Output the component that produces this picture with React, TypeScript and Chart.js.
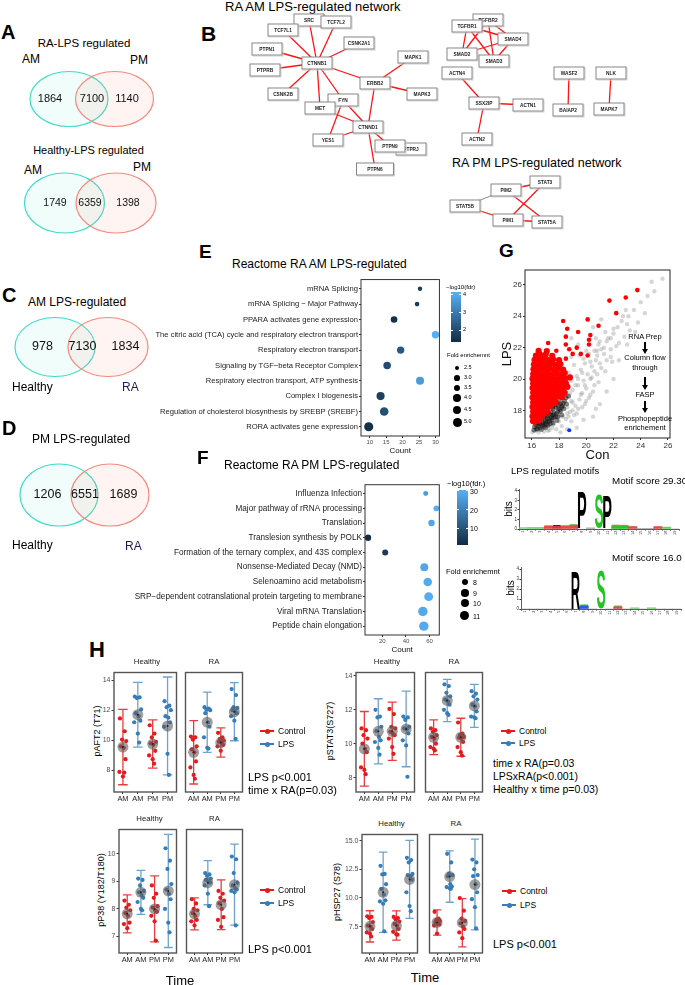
import React, { useEffect, useRef } from "react";
import { Chart, registerables } from "chart.js";

Chart.register(...registerables);

const FONT = "'Liberation Sans', Arial, Helvetica, sans-serif";
Chart.defaults.font.family = FONT;
Chart.defaults.color = "#333";

/* ================= DATA ================= */
// Venn counts: [left only, shared, right only]
const VENN_RA_LPS = [1864, 7100, 1140];
const VENN_HEALTHY_LPS = [1749, 6359, 1398];
const VENN_AM_LPS = [978, 7130, 1834];
const VENN_PM_LPS = [1206, 6551, 1689];

// B: network layout (node, x, y)
const NET_NODES: [string, number, number][] = [
  ["SRC", 69, 12], ["TCF7L2", 96, 14], ["TCF7L1", 43, 22], ["CSNK2A1", 119, 35], ["PTPN1", 27, 41],
  ["CTNNB1", 77, 55], ["PTPRB", 25, 62], ["MAPK1", 173, 49], ["ERBB2", 135, 75], ["MAPK3", 182, 86],
  ["CSNK2B", 43, 86], ["FYN", 103, 92], ["MET", 80, 100], ["CTNND1", 128, 119], ["YES1", 88, 132],
  ["PTPRJ", 171, 141], ["PTPN9", 150, 138], ["PTPN6", 135, 161],
  ["TGFBR2", 248, 12], ["TGFBR1", 227, 18], ["SMAD4", 273, 31], ["SMAD2", 222, 46], ["SMAD3", 254, 53],
  ["ACTN4", 217, 65], ["SSX2IP", 244, 95], ["ACTN1", 288, 97], ["ACTN2", 237, 131],
  ["WASF2", 329, 65], ["BAIAP2", 328, 102], ["NLK", 371, 65], ["MAPK7", 369, 101],
  ["STAT5B", 225, 198], ["PIM2", 266, 182], ["STAT3", 305, 174], ["PIM1", 268, 212], ["STAT5A", 307, 214],
];
const NET_EDGES: [string, string][] = [
  ["CTNNB1", "SRC"], ["CTNNB1", "TCF7L2"], ["CTNNB1", "TCF7L1"], ["CTNNB1", "CSNK2A1"], ["CTNNB1", "PTPN1"],
  ["CTNNB1", "PTPRB"], ["CTNNB1", "CSNK2B"], ["CTNNB1", "MET"], ["CTNNB1", "FYN"], ["CTNNB1", "ERBB2"],
  ["ERBB2", "MAPK1"], ["ERBB2", "MAPK3"], ["ERBB2", "CTNND1"], ["CTNND1", "FYN"], ["CTNND1", "MET"],
  ["CTNND1", "YES1"], ["CTNND1", "PTPN9"], ["CTNND1", "PTPN6"], ["FYN", "YES1"],
  ["TGFBR1", "SMAD2"], ["TGFBR1", "SMAD3"], ["TGFBR1", "SMAD4"], ["TGFBR2", "SMAD2"], ["TGFBR2", "SMAD3"],
  ["TGFBR2", "SMAD4"], ["SMAD2", "SMAD4"], ["SMAD3", "SMAD4"],
  ["ACTN4", "SSX2IP"], ["SSX2IP", "ACTN1"], ["SSX2IP", "ACTN2"], ["WASF2", "BAIAP2"], ["NLK", "MAPK7"],
  ["STAT5B", "PIM2"], ["STAT5B", "PIM1"], ["PIM2", "STAT3"], ["PIM2", "STAT5A"], ["PIM1", "STAT3"], ["PIM1", "STAT5A"],
];
const NET_GRAY_EDGES = ["STAT5B|PIM2"];

// E: Reactome RA AM
const E_TERMS = [
  "mRNA Splicing", "mRNA Splicing \u2212 Major Pathway", "PPARA activates gene expression",
  "The citric acid (TCA) cycle and respiratory electron transport", "Respiratory electron transport",
  "Signaling by TGF\u2212beta Receptor Complex", "Respiratory electron transport, ATP synthesis",
  "Complex I biogenesis", "Regulation of cholesterol biosynthesis by SREBP (SREBF)", "RORA activates gene expression",
];
const E_COUNT = [25.3, 24.4, 17.4, 30, 19.4, 15.3, 25.3, 13.3, 14.4, 9.7];
const E_FDR = [1.75, 1.7, 1.45, 4.1, 2.3, 2.05, 3.7, 1.8, 2.1, 1.45];
const E_FOLD = [2.45, 2.5, 3.45, 3.9, 3.9, 4.0, 4.3, 4.4, 4.7, 5.1];
const E_COUNT_TICKS = [10, 15, 20, 25, 30];
const E_FDR_TICKS = [2, 3, 4];
const E_FOLD_BREAKS = [2.5, 3.0, 3.5, 4.0, 4.5, 5.0];

// F: Reactome RA PM
const F_TERMS = [
  "Influenza Infection", "Major pathway of rRNA processing", "Translation", "Translesion synthesis by POLK",
  "Formation of the ternary complex, and 43S complex", "Nonsense-Mediated Decay (NMD)", "Selenoamino acid metabolism",
  "SRP\u2212dependent cotranslational protein targeting to membrane", "Viral mRNA Translation", "Peptide chain elongation",
];
const F_COUNT = [56.7, 65.7, 61.6, 7.8, 22.4, 55.5, 58.4, 59.2, 54.3, 55.1];
const F_FDR = [26, 30, 28, 1.5, 4.5, 28, 29, 29.5, 28.5, 29];
const F_FOLD = [6.5, 7.2, 7.8, 7.8, 7.4, 9.6, 10.4, 10.7, 11.6, 11.6];
const F_COUNT_TICKS = [20, 40, 60];
const F_FDR_TICKS = [10, 20, 30];
const F_FOLD_BREAKS = [8, 9, 10, 11];

// G: Con vs LPS intensities
const G_X_TICKS = [16, 18, 20, 22, 24, 26];
const G_Y_TICKS = [18, 20, 22, 24, 26];
const G_RED_DENSE: [number, number][] = [
  [16.08, 17.32], [16.22, 17.28], [16.38, 17.4], [16.52, 17.35],
  [16.05, 17.62], [16.2, 17.58], [16.42, 17.66], [16.63, 17.6], [16.8, 17.7],
  [16.1, 17.92], [16.3, 17.86], [16.52, 17.95], [16.76, 17.9], [16.97, 17.98], [17.15, 17.92],
  [16.05, 18.22], [16.27, 18.18], [16.46, 18.27], [16.7, 18.2], [16.92, 18.28], [17.15, 18.2], [17.38, 18.3],
  [16.1, 18.52], [16.32, 18.48], [16.55, 18.56], [16.8, 18.5], [17.02, 18.58], [17.27, 18.5], [17.52, 18.57], [17.76, 18.5],
  [16.05, 18.82], [16.3, 18.78], [16.52, 18.86], [16.76, 18.8], [17.0, 18.88], [17.22, 18.8], [17.46, 18.86], [17.72, 18.8], [17.96, 18.9], [18.2, 18.83],
  [16.1, 19.12], [16.36, 19.08], [16.6, 19.15], [16.86, 19.1], [17.1, 19.18], [17.36, 19.1], [17.6, 19.16], [17.86, 19.1], [18.12, 19.2], [18.42, 19.12],
  [16.05, 19.42], [16.3, 19.38], [16.56, 19.46], [16.8, 19.4], [17.06, 19.48], [17.3, 19.4], [17.56, 19.46], [17.82, 19.4], [18.06, 19.48], [18.32, 19.42], [18.62, 19.5],
  [16.1, 19.72], [16.36, 19.68], [16.6, 19.76], [16.86, 19.7], [17.1, 19.78], [17.36, 19.7], [17.62, 19.76], [17.9, 19.7], [18.2, 19.78], [18.5, 19.72],
  [16.05, 20.02], [16.3, 19.98], [16.56, 20.06], [16.8, 20.0], [17.06, 20.08], [17.32, 20.0], [17.6, 20.06], [17.86, 20.0], [18.16, 20.08], [18.46, 20.02], [18.8, 20.1],
  [16.1, 20.32], [16.36, 20.28], [16.62, 20.36], [16.9, 20.3], [17.2, 20.38], [17.5, 20.3], [17.8, 20.36], [18.1, 20.3], [18.42, 20.38],
  [16.12, 20.62], [16.4, 20.58], [16.7, 20.66], [17.0, 20.6], [17.3, 20.68], [17.62, 20.6], [17.96, 20.66], [18.3, 20.6],
  [16.15, 20.92], [16.46, 20.88], [16.76, 20.96], [17.06, 20.9], [17.4, 20.98], [17.72, 20.9], [18.1, 20.95],
  [16.2, 21.22], [16.52, 21.18], [16.86, 21.26], [17.2, 21.2], [17.56, 21.26], [18.0, 21.2],
  [16.3, 21.5], [16.66, 21.46], [17.02, 21.55], [17.5, 21.48], [16.5, 21.8], [17.1, 21.78],
];
const G_RED_SPARSE: [number, number][] = [
  [23.75, 25.67], [22.9, 25.2], [21.7, 25.0], [22.2, 24.2], [20.1, 23.8], [18.3, 23.7], [20.9, 23.4], [18.6, 23.2],
  [19.4, 23.0], [20.3, 22.8], [17.2, 22.3], [20.2, 22.5], [18.5, 22.7], [18.5, 22.2], [19.3, 22.0], [20.2, 22.2],
  [17.8, 21.8], [16.65, 21.6], [18.75, 21.9], [19.0, 21.6], [19.6, 21.6], [20.1, 21.5], [16.8, 21.4], [18.5, 21.3],
];
const G_CORE: [number, number][] = [
  [16.2, 16.95], [16.35, 16.85], [16.5, 17.0], [16.62, 16.9], [16.75, 17.05], [16.9, 16.98], [17.05, 17.12], [17.2, 17.05],
  [16.45, 17.2], [16.6, 17.3], [16.8, 17.22], [16.98, 17.35], [17.15, 17.28], [17.3, 17.45], [17.48, 17.38], [16.9, 17.55],
  [17.1, 17.62], [17.28, 17.75], [17.45, 17.68], [17.62, 17.85], [17.8, 17.78], [17.55, 18.1], [17.75, 18.2], [17.95, 18.12],
  [18.1, 18.4], [18.25, 18.3], [17.85, 18.5], [18.4, 18.6], [16.3, 17.1], [17.35, 17.15], [17.6, 17.55], [17.9, 17.6],
  [18.1, 17.95], [18.35, 18.1], [16.15, 16.75], [16.7, 16.78], [17.0, 16.9],
  [16.4, 16.8], [16.55, 17.15], [16.7, 17.45], [16.85, 17.1], [17.0, 17.25], [17.15, 17.5], [17.3, 17.3], [17.45, 17.55],
  [17.6, 17.7], [17.75, 17.6], [17.9, 17.9], [18.05, 18.05], [18.2, 18.2], [17.4, 17.9], [17.7, 18.35], [18.0, 18.6],
  [18.3, 18.45], [18.5, 18.8], [16.25, 17.4], [16.5, 17.5], [16.95, 17.7], [17.2, 17.85], [17.5, 18.2], [17.95, 18.35],
  [18.55, 18.4], [18.2, 17.7], [17.85, 17.35], [17.55, 17.2], [16.35, 17.25], [18.7, 18.9],
];
const G_HALO: [number, number][] = [
  [17.5, 16.9], [17.8, 16.8], [18.2, 17.0], [18.5, 17.45], [18.9, 17.3], [18.8, 17.9], [19.3, 17.8], [19.2, 18.3],
  [19.7, 18.2], [19.5, 18.7], [20.0, 18.6], [18.6, 18.9], [19.0, 19.3], [19.4, 19.6], [20.3, 19.0], [20.5, 19.2],
  [19.8, 19.9], [20.9, 19.8], [20.1, 20.3], [19.6, 20.6], [20.4, 20.8], [21.4, 20.5], [20.7, 21.2], [19.9, 21.0],
  [18.9, 19.9], [19.3, 20.2], [18.7, 20.4], [19.1, 20.9], [18.9, 21.4], [19.5, 21.5], [20.2, 21.6], [20.8, 21.8],
  [21.3, 22.0], [21.9, 21.1], [21.0, 22.4], [21.6, 22.6], [22.0, 22.9], [22.3, 23.3], [22.6, 23.7], [23.1, 24.0],
  [23.5, 24.4], [24.0, 24.9], [24.8, 26.2], [25.6, 26.4], [22.7, 24.0], [23.0, 23.5], [22.0, 23.2], [23.6, 23.0],
  [21.5, 22.4], [21.8, 22.6], [20.9, 22.2], [22.2, 22.1], [21.1, 21.9], [20.6, 21.8], [21.8, 21.4], [20.8, 21.5],
  [20.0, 21.8], [19.8, 21.3], [19.0, 18.0], [18.3, 18.8], [18.6, 18.2], [18.9, 18.6], [16.05, 16.6], [16.25, 16.7],
  [17.3, 16.75], [18.0, 17.6], [18.4, 19.4], [19.7, 19.1], [20.4, 20.1], [18.6, 17.8],
  [17.2, 17.0], [17.6, 17.1], [18.0, 17.3], [18.3, 17.6], [18.7, 17.6], [19.1, 17.7], [19.4, 18.1], [19.9, 18.4],
  [20.2, 18.8], [19.0, 18.5], [19.6, 19.0], [20.0, 19.4], [20.6, 19.6], [18.8, 19.1], [19.2, 19.6], [19.9, 19.6],
  [20.3, 20.0], [20.8, 20.3], [21.1, 20.7], [19.4, 20.0], [19.7, 20.4], [20.6, 20.5], [21.0, 21.0], [21.5, 21.2],
  [20.3, 21.1], [21.3, 21.6], [21.8, 21.9], [22.4, 22.3], [22.8, 22.7], [23.2, 23.1], [23.8, 23.6], [24.3, 24.2],
  [22.9, 24.4], [21.4, 23.0], [20.7, 22.6], [19.4, 22.2], [18.9, 22.6], [20.5, 23.3], [21.1, 23.8], [24.5, 25.3],
  [25.0, 25.6], [19.3, 16.9], [18.6, 16.8], [20.5, 17.6], [21.0, 18.4], [21.5, 19.2], [22.0, 20.0], [17.2, 16.7],
  [16.5, 16.6], [16.9, 16.65], [18.1, 16.6], [19.8, 17.4], [20.7, 18.1], [22.4, 21.2], [23.0, 22.2],
];
const G_BLUE: [number, number][] = [[18.75, 16.74]];

// Motif logos (bits per position 1..19)
const LOGO_POS = ["1", "2", "3", "4", "5", "6", "7", "8", "9", "10", "11", "12", "13", "14", "15", "16", "17", "18", "19"];
const LOGO1_BITS = [0.12, 0.15, 0.15, 0.3, 0.3, 0.3, 0.4, 3.9, 0.12, 3.6, 3.45, 0.35, 0.35, 0.25, 0.03, 0.03, 0.25, 0.2, 0];
const LOGO1_LETTER = ["", "", "", "", "", "", "", "P", "", "S", "P", "", "", "", "", "", "", "", ""];
const LOGO1_COLOR = ["#7bd67b", "#6fd36f", "#6fd36f", "#e34a4a", "#d23c3c", "#e34a4a", "#e34a4a", "#000", "#aaa", "#21c421", "#000", "#2fbf2f", "#2fbf2f", "#e34a4a", "#aaa", "#aaa", "#e34a4a", "#5fd35f", "#aaa"];
const LOGO1_MINOR = [0.05, 0.05, 0.05, 0.1, 0.12, 0.1, 0.12, 0, 0, 0, 0, 0.1, 0.08, 0.08, 0, 0, 0.05, 0, 0];
const LOGO1_MINOR_COLOR = ["#aaa", "#aaa", "#aaa", "#6fd36f", "#222", "#6fd36f", "#6fd36f", "#aaa", "#aaa", "#aaa", "#aaa", "#e34a4a", "#e34a4a", "#6fd36f", "#aaa", "#aaa", "#6fd36f", "#aaa", "#aaa"];
const LOGO2_BITS = [0, 0, 0, 0, 0, 0, 3.8, 0.3, 0, 3.85, 0, 0.22, 0, 0.12, 0, 0.12, 0, 0, 0];
const LOGO2_LETTER = ["", "", "", "", "", "", "R", "", "", "S", "", "", "", "", "", "", "", "", ""];
const LOGO2_COLOR = ["#aaa", "#aaa", "#aaa", "#aaa", "#aaa", "#aaa", "#000", "#2d5be3", "#aaa", "#21c421", "#aaa", "#e34a4a", "#aaa", "#6fd36f", "#aaa", "#6fd36f", "#aaa", "#aaa", "#aaa"];
const LOGO2_MINOR = [0, 0, 0, 0, 0, 0, 0, 0.15, 0, 0, 0, 0.12, 0, 0, 0, 0, 0, 0, 0];
const LOGO2_MINOR_COLOR = ["#aaa", "#aaa", "#aaa", "#aaa", "#aaa", "#aaa", "#aaa", "#2fbf2f", "#aaa", "#aaa", "#aaa", "#2fbf2f", "#aaa", "#aaa", "#aaa", "#aaa", "#aaa", "#aaa", "#aaa"];

// H: phospho-protein levels (groups: Control AM, LPS AM, Control PM, LPS PM)
const H_TIME = ["AM", "AM", "PM", "PM"];
const H_TREAT = ["Control", "LPS", "Control", "LPS"];
const JITTER = [-0.2, 0.12, -0.06, 0.22, -0.14, 0.05, 0.17, -0.24, 0.0, 0.09];

const AFT2_HEALTHY_MEAN = [9.55, 11.7, 9.75, 10.95];
const AFT2_HEALTHY_ERR = [2.5, 2.15, 1.6, 3.25];
const AFT2_HEALTHY_PTS = [
  [11.45, 10.6, 10.05, 9.95, 9.6, 9.5, 8.75, 7.9, 7.6, 7.85],
  [12.9, 12.85, 12.8, 12.05, 11.8, 11.6, 11.3, 11.2, 10.45, 9.85],
  [11.0, 10.45, 10.2, 9.9, 9.8, 9.7, 9.3, 9.0, 8.75, 8.45],
  [12.6, 12.3, 12.2, 12.0, 11.6, 11.5, 11.2, 10.9, 9.1, 7.7],
];
const AFT2_RA_MEAN = [9.2, 11.2, 9.85, 11.9];
const AFT2_RA_ERR = [2.1, 2.0, 0.97, 1.93];
const AFT2_RA_PTS = [
  [10.25, 10.2, 10.05, 9.6, 9.4, 9.2, 8.6, 8.2, 7.7, 7.45],
  [12.2, 12.1, 12.05, 12.0, 11.8, 11.2, 10.9, 10.2, 9.5, 9.45],
  [10.5, 10.2, 10.1, 10.0, 9.9, 9.85, 9.7, 9.6, 9.3],
  [13.4, 13.0, 12.2, 12.15, 12.0, 11.95, 11.8, 11.6, 11.3, 10.1],
];
const STAT3_HEALTHY_MEAN = [9.7, 10.73, 10.73, 10.87];
const STAT3_HEALTHY_ERR = [2.2, 1.92, 1.72, 2.23];
const STAT3_HEALTHY_PTS = [
  [10.9, 10.8, 10.5, 10.3, 10.0, 9.7, 9.5, 8.6, 8.45, 8.2],
  [12.0, 11.6, 11.55, 11.0, 10.75, 10.4, 10.2, 10.1, 9.75, 9.35],
  [12.05, 11.75, 11.0, 10.9, 10.7, 10.6, 10.5, 10.3, 9.8, 9.4],
  [11.6, 11.55, 11.4, 11.0, 10.9, 10.85, 10.6, 10.2, 9.9, 8.05],
];
const STAT3_RA_MEAN = [10.38, 12.55, 10.38, 12.23];
const STAT3_RA_ERR = [1.02, 1.25, 1.12, 1.27];
const STAT3_RA_PTS = [
  [10.9, 10.8, 10.7, 10.5, 10.4, 10.3, 10.0, 9.8, 9.7, 9.6],
  [13.5, 13.4, 13.0, 12.8, 12.6, 12.5, 12.3, 12.0, 11.8, 11.7],
  [11.25, 10.6, 10.5, 10.4, 10.35, 10.3, 10.1, 9.8, 9.5, 9.3],
  [13.1, 12.95, 12.8, 12.6, 12.3, 12.2, 11.9, 11.6, 11.55, 11.5],
];
const P38_HEALTHY_MEAN = [7.82, 8.6, 8.0, 8.65];
const P38_HEALTHY_ERR = [0.69, 0.8, 1.2, 2.05];
const P38_HEALTHY_PTS = [
  [8.3, 8.15, 8.05, 7.95, 7.85, 7.75, 7.5, 7.45, 7.3],
  [9.1, 9.05, 8.85, 8.65, 8.6, 8.5, 8.4, 8.25, 8.0, 7.95],
  [8.85, 8.55, 8.4, 8.1, 8.05, 7.95, 7.9, 7.75, 7.55, 6.85],
  [10.2, 9.75, 9.45, 8.9, 8.7, 8.55, 8.35, 8.0, 7.5, 7.15],
];
const P38_RA_MEAN = [7.82, 8.95, 8.15, 8.88];
const P38_RA_ERR = [0.58, 0.8, 0.9, 1.47];
const P38_RA_PTS = [
  [8.35, 8.2, 8.0, 7.95, 7.85, 7.75, 7.6, 7.55, 7.4],
  [9.3, 9.25, 9.2, 9.1, 9.05, 9.0, 8.95, 8.85, 8.55, 8.1],
  [8.65, 8.55, 8.4, 8.3, 8.2, 8.0, 7.7, 7.6, 7.35],
  [9.9, 9.8, 9.3, 8.95, 8.85, 8.75, 8.7, 8.65, 8.6, 7.4],
];
const HSP27_HEALTHY_MEAN = [7.53, 10.5, 7.6, 11.62];
const HSP27_HEALTHY_ERR = [1.36, 3.5, 1.27, 3.4];
const HSP27_HEALTHY_PTS = [
  [8.4, 8.35, 8.25, 7.9, 7.6, 7.5, 7.3, 7.0, 6.9, 6.65],
  [12.8, 12.1, 12.05, 11.2, 10.8, 10.3, 9.8, 9.7, 9.5, 7.1],
  [8.35, 8.25, 8.15, 7.95, 7.75, 7.6, 7.3, 7.05, 6.85, 6.8],
  [13.5, 13.3, 13.1, 12.1, 12.0, 11.9, 11.6, 10.5, 9.3, 8.85],
];
const HSP27_RA_MEAN = [7.87, 11.87, 7.85, 11.17];
const HSP27_RA_ERR = [1.1, 2.24, 2.1, 3.95];
const HSP27_RA_PTS = [
  [8.8, 8.2, 8.1, 8.0, 7.9, 7.75, 7.7, 7.6, 6.9],
  [13.85, 13.1, 12.1, 12.0, 11.9, 11.2, 11.0, 10.95, 10.85, 10.8],
  [10.0, 8.9, 8.2, 8.0, 7.8, 7.5, 7.3, 7.0, 6.5],
  [13.35, 13.1, 12.5, 12.0, 11.9, 11.2, 10.5, 9.9, 9.2, 7.35],
];

/* ================= HELPERS ================= */
const RED = "#E41A1C";
const BLUE = "#377EB8";
const TREAT_COLOR: any = { Control: RED, LPS: BLUE };
const TREAT_ERR: any = { Control: "rgba(228,26,28,0.85)", LPS: "rgba(55,126,184,0.72)" };
const LOW_C = [0x13, 0x2b, 0x43];
const HIGH_C = [0x56, 0xb1, 0xf7];
const E_CRANGE = [1.35, 4.15];
const F_CRANGE = [1.2, 30.5];

function colorScale(v: number, lo: number, hi: number) {
  const t = Math.max(0, Math.min(1, (v - lo) / (hi - lo)));
  const c = LOW_C.map((x, i) => Math.round(x + (HIGH_C[i] - x) * t));
  return `rgb(${c[0]},${c[1]},${c[2]})`;
}
const rE = (f: number) => Math.sqrt(Math.max(1, 5.3 + 5.98 * (f - 2.5)));
const rF = (f: number) => Math.sqrt(Math.max(1, 10.9 + 3.12 * (f - 8)));

function base(type: string, data: any, options: any, plugins: any[] = []) {
  return {
    type,
    data,
    plugins,
    options: {
      responsive: false,
      maintainAspectRatio: false,
      animation: false,
      devicePixelRatio: 1,
      events: [],
      plugins: { legend: { display: false }, tooltip: { enabled: false }, title: { display: false } },
      ...options,
    },
  };
}

const boxPlugin = (color: string, lw: number) => ({
  id: "box",
  afterDraw(chart: any) {
    const { ctx, chartArea: a } = chart;
    ctx.save();
    ctx.strokeStyle = color;
    ctx.lineWidth = lw;
    ctx.strokeRect(a.left, a.top, a.right - a.left, a.bottom - a.top);
    ctx.restore();
  },
});

const fixedTicks = (vals: number[]) => (s: any) => {
  s.ticks = vals.map((v) => ({ value: v }));
};
const fixY = (w: number) => (s: any) => {
  s.width = w;
  s.paddingTop = 0;
  s.paddingBottom = 0;
};
const fixX = (h: number) => (s: any) => {
  s.height = h;
  s.paddingLeft = 0;
  s.paddingRight = 0;
};

function Plot(props: { x: number; y: number; w: number; h: number; cfg: () => any }) {
  const ref = useRef<HTMLCanvasElement>(null);
  useEffect(() => {
    const chart = new Chart(ref.current as HTMLCanvasElement, props.cfg());
    return () => chart.destroy();
  }, []);
  return (
    <canvas
      ref={ref}
      width={props.w}
      height={props.h}
      style={{ position: "absolute", left: props.x, top: props.y, width: props.w, height: props.h }}
    />
  );
}

function T(p: any) {
  const tx = p.a === "center" ? "-50%" : p.a === "right" ? "-100%" : "0";
  const rot = p.r ? ` rotate(${p.r}deg)` : "";
  return (
    <div
      style={{
        position: "absolute",
        left: p.x,
        top: p.y,
        transform: `translate(${p.r ? "-50%" : tx}, -50%)${rot}`,
        fontSize: p.s || 10,
        color: p.c || "#000",
        fontWeight: p.w || 400,
        fontFamily: FONT,
        whiteSpace: "nowrap",
        lineHeight: 1,
      }}
    >
      {p.children}
    </div>
  );
}

/* ================= CONFIGS ================= */
function vennCfg(counts: number[], g: any) {
  return () =>
    base(
      "scatter",
      { datasets: [{ data: counts.map((_, i) => ({ x: g.lx[i], y: g.cy })), pointRadius: 0 }] },
      {
        layout: { padding: 0 },
        scales: { x: { display: false, min: 0, max: 150 }, y: { display: false, min: 0, max: 76, reverse: true } },
      },
      [
        {
          id: "venn",
          beforeDatasetsDraw(chart: any) {
            const { ctx } = chart;
            const xs = chart.scales.x,
              ys = chart.scales.y;
            const cy = ys.getPixelForValue(g.cy);
            const ry = Math.abs(ys.getPixelForValue(g.cy + g.ry) - cy);
            const shapes: any[] = [
              [g.cxL, "#3fdcc8", "rgba(64,224,208,0.08)"],
              [g.cxR, "#f5897d", "rgba(250,128,114,0.09)"],
            ];
            ctx.save();
            shapes.forEach(([cx, stroke, fill]) => {
              const px = xs.getPixelForValue(cx);
              const rx = Math.abs(xs.getPixelForValue(cx + g.rx) - px);
              ctx.beginPath();
              ctx.ellipse(px, cy, rx, ry, 0, 0, Math.PI * 2);
              ctx.fillStyle = fill;
              ctx.fill();
              ctx.strokeStyle = stroke;
              ctx.lineWidth = 1.2;
              ctx.stroke();
            });
            ctx.restore();
          },
          afterDatasetsDraw(chart: any) {
            const { ctx } = chart;
            const meta = chart.getDatasetMeta(0);
            ctx.save();
            ctx.fillStyle = "#111";
            ctx.font = `${g.font}px ${FONT}`;
            ctx.textAlign = "center";
            ctx.textBaseline = "middle";
            meta.data.forEach((el: any, i: number) => ctx.fillText(String(counts[i]), el.x, el.y));
            ctx.restore();
          },
        },
      ]
    );
}

function netCfg() {
  const pos: any = {};
  NET_NODES.forEach(([id, x, y]) => (pos[id] = { x, y }));
  const datasets = NET_EDGES.map(([a, b]) => ({
    data: [pos[a], pos[b]],
    showLine: true,
    pointRadius: 0,
    borderColor: NET_GRAY_EDGES.includes(a + "|" + b) ? "#9a9a9a" : "#ff1414",
    borderWidth: 1.3,
  }));
  return base(
    "scatter",
    { datasets },
    { scales: { x: { display: false, min: 0, max: 400 }, y: { display: false, min: 0, max: 227, reverse: true } } },
    [
      {
        id: "nodes",
        afterDatasetsDraw(chart: any) {
          const { ctx } = chart;
          const xs = chart.scales.x,
            ys = chart.scales.y;
          ctx.save();
          ctx.font = `bold 4.8px ${FONT}`;
          ctx.textAlign = "center";
          ctx.textBaseline = "middle";
          NET_NODES.forEach(([id, x, y]) => {
            const px = xs.getPixelForValue(x),
              py = ys.getPixelForValue(y);
            const w = id === "PTPN6" ? 37 : 30,
              h = 12;
            ctx.strokeStyle = "#d2d2d2";
            ctx.lineWidth = 1;
            ctx.strokeRect(px - w / 2 + 1, py - h / 2 + 1, w, h);
            ctx.fillStyle = "#fff";
            ctx.fillRect(px - w / 2, py - h / 2, w, h);
            ctx.strokeStyle = "#7a7a7a";
            ctx.lineWidth = 0.9;
            ctx.strokeRect(px - w / 2, py - h / 2, w, h);
            ctx.fillStyle = "#222";
            ctx.fillText(id, px, py + 0.3);
          });
          ctx.restore();
        },
      },
    ]
  );
}

function dotCfg(p: any) {
  const n = p.terms.length;
  return () =>
    base(
      "scatter",
      {
        datasets: [
          {
            data: p.counts.map((c: number, i: number) => ({ x: c, y: i })),
            pointRadius: p.fold.map(p.rFn),
            pointBackgroundColor: p.fdr.map((v: number) => colorScale(v, p.cr[0], p.cr[1])),
            pointBorderWidth: 0,
            pointBorderColor: "rgba(0,0,0,0)",
          },
        ],
      },
      {
        layout: { padding: { left: 2, top: 2, right: 2, bottom: 0 } },
        scales: {
          x: {
            type: "linear",
            min: p.xMin,
            max: p.xMax,
            afterBuildTicks: fixedTicks(p.xTicks),
            ticks: { font: { size: 6 }, color: "#4d4d4d", padding: 1, maxRotation: 0, autoSkip: false },
            grid: { drawOnChartArea: false, tickLength: 2, color: "#333" },
            border: { display: false },
            title: { display: true, text: "Count", font: { size: 8 }, color: "#111", padding: 0 },
            afterFit: fixX(20),
          },
          y: {
            type: "linear",
            reverse: true,
            min: -0.6,
            max: n - 0.4,
            afterBuildTicks: fixedTicks(p.terms.map((_: any, i: number) => i)),
            ticks: {
              callback: (v: any) => p.terms[v],
              font: { size: p.labelSize },
              color: "#222",
              padding: 1,
              autoSkip: false,
            },
            grid: { drawOnChartArea: false, tickLength: 2, color: "#333" },
            border: { display: false },
            afterFit: fixY(p.yW),
          },
        },
      },
      [boxPlugin("#333", 1)]
    );
}

function scatterCfg() {
  const toXY = (arr: [number, number][]) => arr.map(([x, y]) => ({ x, y }));
  return base(
    "scatter",
    {
      datasets: [
        { data: toXY(G_BLUE), pointRadius: 2, pointBackgroundColor: "#1030ff", pointBorderWidth: 0, order: 0 },
        { data: toXY(G_RED_SPARSE), pointRadius: 2.3, pointBackgroundColor: "#ff0000", pointBorderWidth: 0, order: 1 },
        { data: toXY(G_RED_DENSE), pointRadius: 3.1, pointBackgroundColor: "#ff0000", pointBorderWidth: 0, order: 2 },
        { data: toXY(G_CORE), pointRadius: 2.5, pointBackgroundColor: "rgba(15,15,15,0.5)", pointBorderWidth: 0, order: 3 },
        { data: toXY(G_HALO), pointRadius: 2.2, pointBackgroundColor: "rgba(120,120,120,0.3)", pointBorderWidth: 0, order: 4 },
      ],
    },
    {
      layout: { padding: { left: 2, top: 2, right: 2, bottom: 0 } },
      scales: {
        x: {
          type: "linear",
          min: 15.5,
          max: 26.15,
          afterBuildTicks: fixedTicks(G_X_TICKS),
          ticks: { font: { size: 8 }, color: "#333", padding: 1, maxRotation: 0, autoSkip: false },
          grid: { drawOnChartArea: false, tickLength: 2, color: "#333" },
          border: { display: false },
          title: { display: true, text: "Con", font: { size: 13 }, color: "#111", padding: 0 },
          afterFit: fixX(25),
        },
        y: {
          type: "linear",
          min: 16.24,
          max: 26.95,
          afterBuildTicks: fixedTicks(G_Y_TICKS),
          ticks: { font: { size: 8 }, color: "#333", padding: 1, autoSkip: false },
          grid: { drawOnChartArea: false, tickLength: 2, color: "#333" },
          border: { display: false },
          title: { display: true, text: "LPS", font: { size: 13 }, color: "#111", padding: 0 },
          afterFit: fixY(25),
        },
      },
    },
    [boxPlugin("#222", 1)]
  );
}

function logoCfg(bits: number[], letters: string[], colors: string[], minor: number[], minorColors: string[]) {
  return () =>
    base(
      "bar",
      {
        labels: LOGO_POS,
        datasets: [
          {
            data: bits,
            backgroundColor: bits.map((_, i) => (letters[i] ? "rgba(0,0,0,0)" : colors[i])),
            barPercentage: 1,
            categoryPercentage: 1,
            stack: "s",
          },
          { data: minor, backgroundColor: minorColors, barPercentage: 1, categoryPercentage: 0.9, stack: "s" },
        ],
      },
      {
        layout: { padding: { left: 2, top: 2, right: 2, bottom: 0 } },
        scales: {
          x: {
            stacked: true,
            ticks: { font: { size: 4 }, color: "#333", maxRotation: 90, minRotation: 90, padding: 0, autoSkip: false },
            grid: { drawOnChartArea: false, tickLength: 1.5, color: "#333" },
            border: { display: true, color: "#333", width: 0.8 },
            afterFit: fixX(8),
          },
          y: {
            stacked: true,
            min: 0,
            max: 4.2,
            afterBuildTicks: fixedTicks([0, 1, 2, 3, 4]),
            ticks: { font: { size: 4.5 }, color: "#333", padding: 0.5 },
            grid: { drawOnChartArea: false, tickLength: 1.5, color: "#333" },
            border: { display: true, color: "#333", width: 0.8 },
            title: { display: true, text: "bits", font: { size: 10 }, color: "#000", padding: 0 },
            afterFit: fixY(16),
          },
        },
      },
      [
        {
          id: "glyphs",
          afterDatasetsDraw(chart: any) {
            const { ctx } = chart;
            const meta = chart.getDatasetMeta(0);
            ctx.save();
            ctx.font = `bold 100px ${FONT}`;
            ctx.textBaseline = "alphabetic";
            meta.data.forEach((el: any, i: number) => {
              const L = letters[i];
              if (!L) return;
              const { x, y, base: b, width } = el.getProps(["x", "y", "base", "width"], true);
              const m = ctx.measureText(L);
              const gw = m.actualBoundingBoxLeft + m.actualBoundingBoxRight;
              const gh = m.actualBoundingBoxAscent + m.actualBoundingBoxDescent;
              ctx.save();
              ctx.translate(x - width / 2, y);
              ctx.scale(width / gw, (b - y) / gh);
              ctx.fillStyle = colors[i];
              ctx.fillText(L, m.actualBoundingBoxLeft, m.actualBoundingBoxAscent);
              ctx.restore();
            });
            ctx.restore();
          },
        },
      ]
    );
}

function facetCfg(p: any) {
  return () => {
    const datasets: any[] = [
      {
        data: p.means.map((m: number, g: number) => ({ x: g + 1, y: m })),
        pointRadius: 1,
        pointBackgroundColor: "#222",
        pointBorderWidth: 0,
        order: 0,
      },
      {
        data: p.means.map((m: number, g: number) => ({ x: g + 1, y: m })),
        pointRadius: 5.5,
        pointBackgroundColor: "rgba(95,95,95,0.6)",
        pointBorderWidth: 0,
        order: 1,
      },
    ];
    p.pts.forEach((arr: number[], g: number) =>
      datasets.push({
        data: arr.map((v, k) => ({ x: g + 1 + JITTER[k % JITTER.length], y: v })),
        pointRadius: 2.1,
        pointBackgroundColor: TREAT_COLOR[H_TREAT[g]],
        pointBorderWidth: 0,
        order: 2,
      })
    );
    return base(
      "scatter",
      { datasets },
      {
        layout: { padding: { left: 2, top: 2, right: 2, bottom: 0 } },
        scales: {
          x: {
            type: "linear",
            min: 0.4,
            max: 4.6,
            afterBuildTicks: fixedTicks([1, 2, 3, 4]),
            ticks: {
              callback: (v: any) => H_TIME[v - 1],
              font: { size: 7.4 },
              color: "#1a1a1a",
              padding: 1,
              maxRotation: 0,
              autoSkip: false,
            },
            grid: { drawOnChartArea: false, tickLength: 2, color: "#333" },
            border: { display: false },
            afterFit: fixX(14),
          },
          y: {
            type: "linear",
            display: p.showY,
            min: p.yMin,
            max: p.yMax,
            afterBuildTicks: fixedTicks(p.yTicks),
            ticks: { callback: p.fmt, font: { size: 7 }, color: "#4d4d4d", padding: 1, autoSkip: false },
            grid: { drawOnChartArea: false, tickLength: 2.5, color: "#333" },
            border: { display: false },
            afterFit: fixY(p.yW),
          },
        },
      },
      [
        boxPlugin("#555", 1.4),
        {
          id: "errbars",
          beforeDatasetsDraw(chart: any) {
            const { ctx } = chart;
            const xs = chart.scales.x,
              ys = chart.scales.y;
            ctx.save();
            ctx.lineWidth = 1.3;
            p.means.forEach((m: number, g: number) => {
              const x = xs.getPixelForValue(g + 1);
              const half = Math.abs(xs.getPixelForValue(g + 1.32) - x);
              const yt = ys.getPixelForValue(m + p.errs[g]);
              const yb = ys.getPixelForValue(m - p.errs[g]);
              ctx.strokeStyle = TREAT_ERR[H_TREAT[g]];
              ctx.beginPath();
              ctx.moveTo(x, yt);
              ctx.lineTo(x, yb);
              ctx.moveTo(x - half, yt);
              ctx.lineTo(x + half, yt);
              ctx.moveTo(x - half, yb);
              ctx.lineTo(x + half, yb);
              ctx.stroke();
            });
            ctx.restore();
          },
        },
      ]
    );
  };
}

/* ================= LAYOUT PIECES ================= */
const VENN_GEOM = {
  a1: { cxL: 59, cxR: 104.5, cy: 38, rx: 39, ry: 27.5, lx: [40, 82, 117], font: 11 },
  a2: { cxL: 54.5, cxR: 106, cy: 38, rx: 40, ry: 30, lx: [45, 80, 118], font: 10.5 },
  c: { cxL: 45, cxR: 98, cy: 38, rx: 40, ry: 29.5, lx: [32.5, 72.5, 115.5], font: 12.5 },
  d: { cxL: 49, cxR: 100, cy: 38, rx: 39, ry: 31, lx: [37.5, 75, 113.5], font: 12.5 },
};

function ColorBar(p: any) {
  const [lo, hi] = p.range;
  return (
    <>
      <div
        style={{
          position: "absolute",
          left: p.x,
          top: p.y,
          width: p.w,
          height: p.h,
          background: `linear-gradient(to top, rgb(${LOW_C.join(",")}), rgb(${HIGH_C.join(",")}))`,
        }}
      />
      {p.ticks.map((t: number) => {
        const ty = p.y + ((hi - t) / (hi - lo)) * p.h;
        return (
          <React.Fragment key={t}>
            <div style={{ position: "absolute", left: p.x, top: ty - 0.5, width: 2, height: 1, background: "#fff" }} />
            <div style={{ position: "absolute", left: p.x + p.w - 2, top: ty - 0.5, width: 2, height: 1, background: "#fff" }} />
            <T x={p.x + p.w + 2} y={ty} s={p.fs}>
              {t}
            </T>
          </React.Fragment>
        );
      })}
    </>
  );
}

function SizeLegend(p: any) {
  return (
    <>
      {p.values.map((v: number, i: number) => {
        const r = p.rFn(v);
        return (
          <React.Fragment key={v}>
            <div
              style={{
                position: "absolute",
                left: p.x - r,
                top: p.ys[i] - r,
                width: 2 * r,
                height: 2 * r,
                borderRadius: "50%",
                background: "#000",
              }}
            />
            <T x={p.lx} y={p.ys[i]} s={p.fs}>
              {p.fmt ? p.fmt(v) : v}
            </T>
          </React.Fragment>
        );
      })}
    </>
  );
}

function LegendItem(p: any) {
  return (
    <>
      <div style={{ position: "absolute", left: p.x, top: p.y - 0.7, width: 14, height: 1.4, background: p.c }} />
      <div
        style={{ position: "absolute", left: p.x + 4.5, top: p.y - 2.5, width: 5, height: 5, borderRadius: "50%", background: p.c }}
      />
      <T x={p.x + 18} y={p.y} s={8.5}>
        {p.label}
      </T>
    </>
  );
}

function Arrow(p: any) {
  return (
    <>
      <div style={{ position: "absolute", left: p.x - 0.6, top: p.y1, width: 1.2, height: p.y2 - p.y1 - 4, background: "#000" }} />
      <div
        style={{
          position: "absolute",
          left: p.x - 3,
          top: p.y2 - 5,
          width: 0,
          height: 0,
          borderLeft: "3px solid transparent",
          borderRight: "3px solid transparent",
          borderTop: "5px solid #000",
        }}
      />
    </>
  );
}

const H_PANELS = [
  {
    key: "aft2",
    title: "pAFT2 (T71)",
    titleX: 97,
    top: 669,
    bottom: 792,
    yMin: 6.57,
    yMax: 14.5,
    yTicks: [8, 10, 12, 14],
    fmt: (v: number) => String(v),
    yW: 16,
    facets: [
      { label: "Healthy", left: 114, right: 180, means: AFT2_HEALTHY_MEAN, errs: AFT2_HEALTHY_ERR, pts: AFT2_HEALTHY_PTS },
      { label: "RA", left: 182, right: 246, means: AFT2_RA_MEAN, errs: AFT2_RA_ERR, pts: AFT2_RA_PTS },
    ],
  },
  {
    key: "stat3",
    title: "pSTAT3(S727)",
    titleX: 330,
    top: 669,
    bottom: 792,
    yMin: 7.15,
    yMax: 14.2,
    yTicks: [8, 10, 12, 14],
    fmt: (v: number) => String(v),
    yW: 16,
    facets: [
      { label: "Healthy", left: 356, right: 418, means: STAT3_HEALTHY_MEAN, errs: STAT3_HEALTHY_ERR, pts: STAT3_HEALTHY_PTS },
      { label: "RA", left: 422, right: 486, means: STAT3_RA_MEAN, errs: STAT3_RA_ERR, pts: STAT3_RA_PTS },
    ],
  },
  {
    key: "p38",
    title: "pP38 (Y182/T180)",
    titleX: 101,
    top: 826,
    bottom: 953,
    yMin: 6.4,
    yMax: 10.88,
    yTicks: [7, 8, 9, 10],
    fmt: (v: number) => String(v),
    yW: 16,
    facets: [
      { label: "Healthy", left: 119, right: 180, means: P38_HEALTHY_MEAN, errs: P38_HEALTHY_ERR, pts: P38_HEALTHY_PTS },
      { label: "RA", left: 183, right: 246, means: P38_RA_MEAN, errs: P38_RA_ERR, pts: P38_RA_PTS },
    ],
  },
  {
    key: "hsp27",
    title: "pHSP27 (S78)",
    titleX: 337,
    top: 831,
    bottom: 953,
    yMin: 5.21,
    yMax: 15.53,
    yTicks: [7.5, 10, 12.5, 15],
    fmt: (v: number) => v.toFixed(1),
    yW: 20,
    facets: [
      { label: "Healthy", left: 362, right: 421, means: HSP27_HEALTHY_MEAN, errs: HSP27_HEALTHY_ERR, pts: HSP27_HEALTHY_PTS },
      { label: "RA", left: 426, right: 486, means: HSP27_RA_MEAN, errs: HSP27_RA_ERR, pts: HSP27_RA_PTS },
    ],
  },
];

/* ================= APP ================= */
export default function App() {
  return (
    <div
      style={{
        position: "absolute",
        left: 0,
        top: 0,
        width: 685,
        height: 985,
        background: "#fff",
        overflow: "hidden",
        fontFamily: FONT,
      }}
    >
      {/* ---------- A ---------- */}
      <T x={1} y={32} s={20} w={700}>A</T>
      <T x={84} y={44} s={11.5} a="center">RA-LPS regulated</T>
      <T x={22} y={59} s={12}>AM</T>
      <T x={130} y={60} s={12}>PM</T>
      <Plot x={10} y={61} w={150} h={76} cfg={vennCfg(VENN_RA_LPS, VENN_GEOM.a1)} />
      <T x={88.5} y={150} s={11} a="center">Healthy-LPS regulated</T>
      <T x={24} y={170} s={12}>AM</T>
      <T x={133} y={167} s={12}>PM</T>
      <Plot x={10} y={165} w={150} h={76} cfg={vennCfg(VENN_HEALTHY_LPS, VENN_GEOM.a2)} />

      {/* ---------- C ---------- */}
      <T x={2} y={295} s={20} w={700}>C</T>
      <T x={28} y={302} s={12}>AM LPS-regulated</T>
      <Plot x={10} y={309} w={150} h={76} cfg={vennCfg(VENN_AM_LPS, VENN_GEOM.c)} />
      <T x={12} y={387} s={12}>Healthy</T>
      <T x={122} y={387} s={12} c="#1c1c5a">RA</T>

      {/* ---------- D ---------- */}
      <T x={2} y={428} s={20} w={700}>D</T>
      <T x={32} y={439} s={12}>PM LPS-regulated</T>
      <Plot x={10} y={457} w={150} h={76} cfg={vennCfg(VENN_PM_LPS, VENN_GEOM.d)} />
      <T x={12} y={545} s={12}>Healthy</T>
      <T x={125} y={546} s={12} c="#1c1c5a">RA</T>

      {/* ---------- B ---------- */}
      <T x={225} y={6} s={13}>RA AM LPS-regulated network</T>
      <T x={201} y={33} s={21} w={700}>B</T>
      <T x={452} y={163} s={12.5}>RA PM LPS-regulated network</T>
      <Plot x={240} y={8} w={400} h={227} cfg={netCfg} />

      {/* ---------- E ---------- */}
      <T x={199} y={251} s={19} w={700}>E</T>
      <T x={232} y={264} s={12}>Reactome RA AM LPS-regulated</T>
      <Plot
        x={148}
        y={275}
        w={296}
        h={181}
        cfg={dotCfg({
          terms: E_TERMS,
          counts: E_COUNT,
          fdr: E_FDR,
          fold: E_FOLD,
          rFn: rE,
          cr: E_CRANGE,
          xMin: 7.35,
          xMax: 31.2,
          xTicks: E_COUNT_TICKS,
          yW: 211,
          labelSize: 7.6,
        })}
      />
      <T x={446} y={287} s={6}>−log10(fdr)</T>
      <ColorBar x={451} y={292} w={10} h={50} range={E_CRANGE} ticks={E_FDR_TICKS} fs={5.5} />
      <T x={447} y={355} s={6}>Fold enrichemnt</T>
      <SizeLegend x={457} lx={464} ys={[368, 378, 388, 398, 410, 422]} values={E_FOLD_BREAKS} rFn={rE} fs={5.5} fmt={(v: number) => v.toFixed(1)} />

      {/* ---------- F ---------- */}
      <T x={197} y={457} s={19} w={700}>F</T>
      <T x={224} y={465} s={12}>Reactome RA PM LPS-regulated</T>
      <Plot
        x={128}
        y={480}
        w={316}
        h={175}
        cfg={dotCfg({
          terms: F_TERMS,
          counts: F_COUNT,
          fdr: F_FDR,
          fold: F_FOLD,
          rFn: rF,
          cr: F_CRANGE,
          xMin: 5.3,
          xMax: 68.2,
          xTicks: F_COUNT_TICKS,
          yW: 235,
          labelSize: 8.2,
        })}
      />
      <T x={447} y={484} s={7.5}>−log10(fdr.)</T>
      <ColorBar x={457} y={490} w={11} h={55} range={F_CRANGE} ticks={F_FDR_TICKS} fs={7} />
      <T x={446} y={572} s={7.5}>Fold enrichemnt</T>
      <SizeLegend x={465} lx={473} ys={[582, 593, 603, 616]} values={F_FOLD_BREAKS} rFn={rF} fs={7} />

      {/* ---------- G ---------- */}
      <T x={499} y={250} s={19} w={700}>G</T>
      <Plot x={498} y={266} w={176} h={197} cfg={scatterCfg} />
      <T x={645} y={337} s={7.5} a="center">RNA Prep</T>
      <Arrow x={645} y1={342} y2={354} />
      <T x={645} y={358} s={7.5} a="center">Column flow</T>
      <T x={645} y={368} s={7.5} a="center">through</T>
      <Arrow x={645} y1={377} y2={390} />
      <T x={645} y={395} s={7.5} a="center">FASP</T>
      <Arrow x={645} y1={401} y2={413} />
      <T x={645} y={419} s={7.5} a="center">Phosphopeptide</T>
      <T x={645} y={428} s={7.5} a="center">enrichement</T>

      <T x={511} y={471} s={9.5}>LPS regulated motifs</T>
      <T x={612} y={481} s={9.8}>Motif score 29.30</T>
      <Plot x={501} y={487} w={180} h={50} cfg={logoCfg(LOGO1_BITS, LOGO1_LETTER, LOGO1_COLOR, LOGO1_MINOR, LOGO1_MINOR_COLOR)} />
      <T x={612} y={558} s={9.8}>Motif score 16.0</T>
      <Plot x={503} y={565} w={180} h={52} cfg={logoCfg(LOGO2_BITS, LOGO2_LETTER, LOGO2_COLOR, LOGO2_MINOR, LOGO2_MINOR_COLOR)} />

      {/* ---------- H ---------- */}
      <T x={89} y={650} s={22} w={700}>H</T>
      {H_PANELS.map((P) => (
        <React.Fragment key={P.key}>
          <T x={P.titleX} y={(P.top + P.bottom) / 2} s={9} r={-90}>
            {P.title}
          </T>
          {P.facets.map((f, i) => {
            const first = i === 0;
            const yW = first ? P.yW : 0;
            return (
              <React.Fragment key={f.label}>
                <T x={(f.left + f.right) / 2} y={P.top - 7} s={7.8} a="center" c="#1a1a1a">
                  {f.label}
                </T>
                <Plot
                  x={f.left - yW - 2}
                  y={P.top - 2}
                  w={2 + yW + (f.right - f.left) + 2}
                  h={2 + (P.bottom - P.top) + 14}
                  cfg={facetCfg({
                    means: f.means,
                    errs: f.errs,
                    pts: f.pts,
                    yMin: P.yMin,
                    yMax: P.yMax,
                    yTicks: P.yTicks,
                    fmt: P.fmt,
                    showY: first,
                    yW,
                  })}
                />
              </React.Fragment>
            );
          })}
        </React.Fragment>
      ))}

      <LegendItem x={260} y={731} c={RED} label="Control" />
      <LegendItem x={260} y={744} c={BLUE} label="LPS" />
      <T x={248} y={777} s={11}>LPS p&lt;0.001</T>
      <T x={248} y={790} s={11}>time x RA(p=0.03)</T>

      <LegendItem x={501} y={731} c={RED} label="Control" />
      <LegendItem x={501} y={743} c={BLUE} label="LPS" />
      <T x={493} y={763} s={10.5}>time x RA(p=0.03</T>
      <T x={493} y={776} s={10.5}>LPSxRA(p&lt;0.001)</T>
      <T x={493} y={789} s={10.5}>Healthy x time p=0.03)</T>

      <LegendItem x={260} y={890} c={RED} label="Control" />
      <LegendItem x={260} y={903} c={BLUE} label="LPS" />
      <T x={248} y={949} s={11}>LPS p&lt;0.001</T>
      <T x={180} y={980} s={13} a="center">Time</T>

      <LegendItem x={502} y={891} c={RED} label="Control" />
      <LegendItem x={502} y={905} c={BLUE} label="LPS" />
      <T x={493} y={944} s={11}>LPS p&lt;0.001</T>
      <T x={425} y={977} s={13} a="center">Time</T>
    </div>
  );
}
